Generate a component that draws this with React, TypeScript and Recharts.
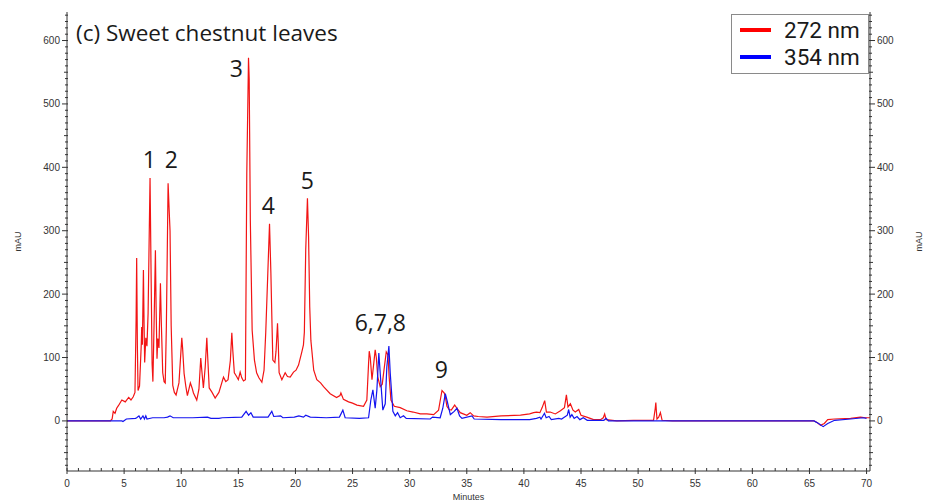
import React from 'react';
import { LineChart, Line, XAxis, YAxis, ReferenceDot } from 'recharts';

// chromatogram traces: [minutes, mAU]
const trace272: [number, number][] = [
    [0, 0], [3.8, 0], [3.95, 3], [4.05, 15], [4.2, 12], [4.35, 20], [4.5, 24], [4.8, 33], [5.1, 30], [5.4, 37],
    [5.6, 33], [5.8, 38], [5.95, 45], [6.05, 160], [6.1, 257], [6.16, 120], [6.22, 48], [6.35, 55], [6.5, 120], [6.54, 148],
    [6.6, 120], [6.69, 238], [6.75, 150], [6.8, 92], [6.9, 131], [7.0, 118], [7.1, 170], [7.27, 383], [7.35, 250], [7.45, 90],
    [7.52, 62], [7.62, 150], [7.74, 269], [7.8, 180], [7.88, 98], [7.95, 130], [8.05, 115], [8.18, 217], [8.25, 160], [8.38, 76],
    [8.5, 62], [8.6, 60], [8.7, 150], [8.85, 375], [8.95, 330], [9.02, 300], [9.12, 150], [9.26, 56], [9.4, 45], [9.55, 41],
    [9.8, 60], [10.05, 131], [10.12, 115], [10.25, 75], [10.4, 55], [10.54, 40], [10.8, 60], [10.95, 52], [11.07, 44], [11.36, 33],
    [11.55, 50], [11.71, 99], [11.8, 80], [11.94, 52], [12.1, 85], [12.24, 131], [12.32, 100], [12.45, 52], [12.7, 45], [12.97, 36],
    [13.3, 45], [13.7, 69], [13.9, 62], [14.1, 65], [14.3, 95], [14.43, 139], [14.52, 110], [14.65, 76], [14.85, 70], [15.0, 65],
    [15.16, 77], [15.3, 68], [15.45, 63], [15.62, 65], [15.74, 390], [15.89, 573], [15.95, 540], [16.05, 316], [16.21, 143], [16.41, 96],
    [16.6, 76], [16.8, 68], [17.06, 61], [17.25, 80], [17.4, 140], [17.58, 233], [17.73, 311], [17.85, 233], [17.95, 150], [18.02, 96],
    [18.2, 92], [18.3, 110], [18.43, 154], [18.5, 120], [18.57, 76], [18.81, 65], [19.1, 76], [19.3, 70], [19.54, 69], [19.83, 77],
    [20.05, 80], [20.27, 88], [20.56, 109], [20.7, 120], [20.78, 140], [20.9, 270], [21.05, 351], [21.15, 290], [21.25, 180], [21.35, 127],
    [21.6, 80], [21.87, 65], [22.2, 60], [22.46, 54], [23.04, 43], [23.6, 37], [23.9, 40], [23.98, 44], [24.2, 34], [24.65, 30],
    [25.0, 28], [25.38, 25], [25.96, 23], [26.25, 33], [26.4, 90], [26.46, 110], [26.55, 100], [26.7, 65], [26.85, 90], [26.98, 112],
    [27.08, 100], [27.2, 70], [27.42, 54], [27.6, 58], [27.75, 80], [27.95, 109], [28.1, 104], [28.2, 70], [28.36, 33], [28.65, 23],
    [29.17, 21], [29.75, 16], [30.3, 14], [30.93, 11], [31.5, 11], [32.1, 10], [32.53, 17], [32.7, 35], [32.83, 48], [33.03, 44],
    [33.15, 35], [33.26, 23], [33.45, 18], [33.64, 17], [33.94, 25], [34.14, 20], [34.43, 13], [35.0, 9], [35.3, 13], [35.6, 8],
    [36.0, 7], [36.77, 6], [38.0, 8], [39.7, 9], [40.5, 11], [40.85, 13], [41.1, 14], [41.4, 13], [41.6, 21], [41.82, 32],
    [41.97, 14], [42.3, 14], [42.75, 11], [43.2, 16], [43.55, 21], [43.72, 41], [43.86, 22], [44.07, 27], [44.3, 17], [44.5, 14],
    [44.8, 18], [45.0, 9], [45.5, 6], [46.1, 2], [46.7, 2], [46.95, 5], [47.07, 11], [47.2, 2], [48.14, 0], [49.6, 1],
    [51.35, 1], [51.5, 20], [51.55, 29], [51.6, 15], [51.65, 3], [51.8, 6], [51.95, 13], [52.1, 1], [53.0, 0], [65.39, 0],
    [65.7, -3], [65.97, -7], [66.3, -4], [66.6, 2], [67.2, 3], [68.6, 4], [69.47, 6], [69.9, 5], [70.3, 5],
];

const trace354: [number, number][] = [
    [0, 0], [4.8, 0], [4.9, -1], [5.2, 3], [6.0, 4], [6.1, 5], [6.3, 8], [6.45, 3], [6.65, 8], [6.78, 3],
    [6.9, 8], [7.0, 3], [7.5, 5], [8.5, 5], [8.8, 6], [9.02, 8], [9.3, 5], [11.0, 5], [12.3, 6], [12.6, 4],
    [13.3, 4], [13.6, 5], [15.3, 6], [15.68, 15], [15.9, 9], [16.1, 13], [16.3, 6], [17.6, 6], [17.93, 15], [18.1, 7],
    [18.7, 8], [18.9, 5], [19.9, 6], [20.3, 8], [20.7, 6], [20.9, 9], [21.3, 6], [22.7, 5], [23.85, 6], [24.15, 17],
    [24.35, 5], [25.6, 4], [26.4, 5], [26.6, 33], [26.78, 49], [26.98, 20], [27.13, 49], [27.3, 107], [27.48, 60], [27.65, 17],
    [27.86, 27], [28.0, 85], [28.18, 118], [28.3, 75], [28.53, 15], [28.74, 8], [28.94, 13], [29.17, 5], [29.46, 8], [29.7, 4],
    [31.8, 3], [32.0, 6], [32.67, 5], [32.9, 20], [33.12, 43], [33.26, 33], [33.56, 10], [33.9, 15], [34.14, 20], [34.37, 8],
    [34.58, 4], [35.45, 8], [35.65, 3], [38.0, 2], [40.5, 2], [41.1, 4], [41.4, 6], [41.5, 3], [41.8, 12], [41.95, 5],
    [42.2, 7], [42.4, 2], [43.05, 4], [43.3, 3], [43.8, 9], [43.92, 18], [44.05, 6], [44.2, 10], [44.4, 4], [44.65, 7],
    [44.9, 2], [45.2, 5], [45.55, 1], [47.0, 1], [47.2, 4], [47.4, 0], [65.4, 0], [65.8, -4], [66.2, -9], [66.6, -4],
    [67.2, 1], [68.6, 3], [69.7, 5], [70.0, 4],
];

// peak annotations: label, minutes, mAU
const peakLabels: [string, number, number][] = [
    ['1', 7.2, 412],
    ['2', 9.13, 412],
    ['3', 14.82, 555],
    ['4', 17.63, 339],
    ['5', 21.04, 379],
    ['6,7,8', 27.43, 155],
    ['9', 32.78, 80],
];

const legendItems: [string, string][] = [
    ['272 nm', '#ff0000'],
    ['354 nm', '#0000ff'],
];

const xMajor = [0, 5, 10, 15, 20, 25, 30, 35, 40, 45, 50, 55, 60, 65, 70];
const yMajor = [0, 100, 200, 300, 400, 500, 600];

const xTicks = Array.from({ length: 71 }, (_, i) => i);
const yTicks = Array.from({ length: 72 }, (_, i) => -70 + i * 10);

const series272 = trace272.map(([t, v]) => ({ t, v }));
const series354 = trace354.map(([t, v]) => ({ t, v }));

const AXIS = '#333';
const TICK_FONT = '"Liberation Sans", Arial, sans-serif';
const TEXT_FONT = '"Open Sans", "Noto Sans", sans-serif';

const XTick = (props: any) => {
    const { x, y, payload } = props;
    const v = payload.value;
    const major = xMajor.includes(v);
    return (
        <g>
            <line x1={x} x2={x} y1={y - 3} y2={major ? y + 3 : y} stroke={AXIS} />
            {major && (
                <text x={x} y={y + 16} textAnchor="middle" fontSize={10} fill={AXIS} fontFamily={TICK_FONT}>{v}</text>
            )}
        </g>
    );
};

const makeYTick = (side: 'left' | 'right') => (props: any) => {
    const { x, y, payload } = props;
    const v = payload.value;
    const major = yMajor.includes(v);
    const mid = v % 50 === 0;
    const s = side === 'left' ? -1 : 1;
    const len = major ? 5 : mid ? 3 : 2;
    return (
        <g>
            <line x1={x - s * 1} x2={x + s * len} y1={y} y2={y} stroke={AXIS} />
            {major && (
                <text
                    x={x + s * 7}
                    y={y + 3.5}
                    textAnchor={side === 'left' ? 'end' : 'start'}
                    fontSize={10}
                    fill={AXIS}
                    fontFamily={TICK_FONT}
                >
                    {v}
                </text>
            )}
        </g>
    );
};

const LeftTick = makeYTick('left');
const RightTick = makeYTick('right');

const App: React.FC = () => {
    return (
        <div style={{ position: 'absolute', left: 0, top: 0, width: 925, height: 501, background: 'white' }}>
            <LineChart width={925} height={501} margin={{ top: 12, right: 0, bottom: 0, left: 0 }}>
                <XAxis
                    dataKey="t"
                    type="number"
                    domain={[0, 70.3]}
                    allowDataOverflow
                    ticks={xTicks}
                    interval={0}
                    height={30}
                    tickSize={0}
                    tickMargin={0}
                    tickLine={false}
                    tick={<XTick />}
                    axisLine={{ stroke: AXIS }}
                    label={{ value: 'Minutes', position: 'insideBottom', offset: 1, fontSize: 9, fill: AXIS, fontFamily: TICK_FONT }}
                />
                <XAxis
                    xAxisId="top"
                    orientation="top"
                    dataKey="t"
                    type="number"
                    domain={[0, 70.3]}
                    height={0}
                    tick={false}
                    tickLine={false}
                    axisLine={{ stroke: AXIS }}
                />
                <YAxis
                    yAxisId="left"
                    type="number"
                    domain={[-79, 645]}
                    allowDataOverflow
                    ticks={yTicks}
                    interval={0}
                    width={67}
                    tickSize={0}
                    tickMargin={0}
                    tickLine={false}
                    tick={<LeftTick />}
                    axisLine={{ stroke: AXIS }}
                    label={{ value: 'mAU', angle: -90, position: 'center', dx: -16, fontSize: 9, fill: AXIS, fontFamily: TICK_FONT }}
                />
                <YAxis
                    yAxisId="right"
                    orientation="right"
                    type="number"
                    domain={[-79, 645]}
                    allowDataOverflow
                    ticks={yTicks}
                    interval={0}
                    width={55}
                    tickSize={0}
                    tickMargin={0}
                    tickLine={false}
                    tick={<RightTick />}
                    axisLine={{ stroke: AXIS }}
                    label={{ value: 'mAU', angle: -90, position: 'center', dx: 21, fontSize: 9, fill: AXIS, fontFamily: TICK_FONT }}
                />
                <Line
                    yAxisId="left"
                    data={series272}
                    dataKey="v"
                    type="linear"
                    stroke="#f21414"
                    strokeWidth={1.2}
                    dot={false}
                    isAnimationActive={false}
                />
                <Line
                    yAxisId="left"
                    data={series354}
                    dataKey="v"
                    type="linear"
                    stroke="#1414f0"
                    strokeWidth={1.2}
                    dot={false}
                    isAnimationActive={false}
                />
                {peakLabels.map(([text, t, v]) => (
                    <ReferenceDot
                        key={text}
                        yAxisId="left"
                        x={t}
                        y={v}
                        r={0}
                        fill="none"
                        stroke="none"
                        ifOverflow="visible"
                        label={{ value: text, position: 'center', fontSize: 23, fill: '#1a1a1a', fontFamily: TEXT_FONT }}
                    />
                ))}
            </LineChart>

            <div style={{ position: 'absolute', left: 76, top: 18, fontSize: 22.5, lineHeight: '30px', fontFamily: TEXT_FONT, color: '#1a1a1a', whiteSpace: 'nowrap' }}>
                (c) Sweet chestnut leaves
            </div>

            <div style={{ position: 'absolute', left: 731, top: 14, width: 136, height: 58, border: '1px solid #8a8a8a', background: 'white', fontFamily: 'Roboto, sans-serif', fontSize: 22.5, color: '#1a1a1a' }}>
                {legendItems.map(([name, color], i) => (
                    <div key={name} style={{ position: 'absolute', left: 0, top: 2 + i * 27, height: 26, display: 'flex', alignItems: 'center', whiteSpace: 'nowrap' }}>
                        <span style={{ display: 'inline-block', marginLeft: 8, width: 31, height: 4, background: color }} />
                        <span style={{ marginLeft: 13, lineHeight: '26px' }}>{name}</span>
                    </div>
                ))}
            </div>
        </div>
    );
};

export default App;
